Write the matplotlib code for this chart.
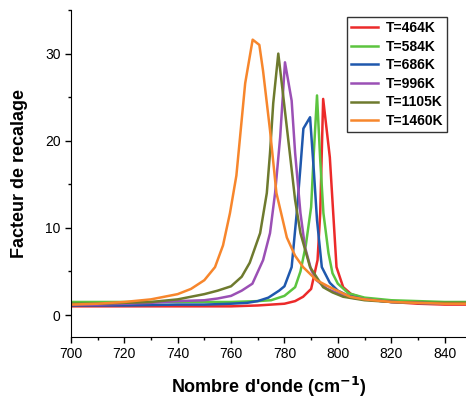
import matplotlib
matplotlib.use("Agg")
import matplotlib.pyplot as plt
from matplotlib.ticker import MultipleLocator

plt.rcParams['font.family'] = ['Liberation Sans', 'DejaVu Sans']

labels = ['T=464K', 'T=584K', 'T=686K', 'T=996K', 'T=1105K', 'T=1460K']
colors = ['#ec2a2a', '#5cc43f', '#1f58ad', '#9b50b5', '#6e7a2e', '#f7862c']

# wavenumber (cm-1) / rescaling factor
x_464 = [700, 720, 740, 760, 770, 780, 784, 787, 790, 792.4, 793.4, 794.5, 797, 799.5, 802, 805, 810, 820, 830, 840, 850]
y_464 = [1.0, 1.0, 1.0, 1.0, 1.1, 1.3, 1.6, 2.1, 3.0, 6.3, 11.7, 24.8, 18.1, 5.5, 3.2, 2.4, 1.9, 1.5, 1.3, 1.2, 1.2]

x_584 = [700, 720, 740, 760, 770, 775, 780, 784, 786, 788, 790, 791, 792.2, 793.4, 794.6, 796.5, 798, 800, 804, 810, 820, 830, 840, 850]
y_584 = [1.5, 1.5, 1.5, 1.5, 1.6, 1.7, 2.2, 3.2, 5.0, 8.0, 12.4, 18.6, 25.2, 17.8, 11.7, 7.1, 4.8, 3.6, 2.5, 2.0, 1.7, 1.6, 1.5, 1.5]

x_686 = [700, 720, 740, 750, 760, 766, 770, 774, 778, 780, 782.7, 784.6, 786, 787.1, 789.6, 791, 792.2, 794, 797, 800, 804, 810, 820, 830, 840, 850]
y_686 = [1.1, 1.1, 1.2, 1.2, 1.3, 1.4, 1.6, 2.0, 2.8, 3.3, 5.5, 11.7, 17.0, 21.4, 22.7, 16.6, 10.9, 5.5, 3.7, 2.8, 2.2, 1.8, 1.5, 1.4, 1.3, 1.3]

x_996 = [700, 710, 720, 730, 740, 750, 755, 760, 764, 768, 772, 774.6, 776.5, 778.4, 780.2, 782.7, 784, 786, 787.7, 790, 792, 796, 800, 805, 810, 820, 830, 840, 850]
y_996 = [1.2, 1.2, 1.3, 1.4, 1.6, 1.7, 1.9, 2.2, 2.8, 3.6, 6.3, 9.4, 14.0, 20.4, 29.0, 24.6, 18.6, 11.7, 7.8, 5.2, 4.0, 3.0, 2.5, 2.0, 1.8, 1.5, 1.4, 1.3, 1.3]

x_1105 = [700, 710, 720, 730, 740, 750, 755, 760, 764, 767, 770.9, 773.4, 774.6, 775.8, 777.7, 779.6, 782, 784, 786, 789.6, 794.5, 798, 802, 810, 820, 830, 840, 850]
y_1105 = [1.3, 1.3, 1.4, 1.5, 1.8, 2.4, 2.8, 3.3, 4.4, 6.0, 9.4, 14.0, 18.6, 24.3, 30.0, 25.0, 18.6, 13.2, 9.4, 5.5, 3.2, 2.6, 2.1, 1.7, 1.5, 1.4, 1.4, 1.4]

x_1460 = [700, 710, 720, 730, 740, 745, 750, 754, 757, 759.6, 762, 765.3, 768.1, 770.6, 772, 774.6, 777, 780.9, 784, 787, 792, 797, 804.6, 810, 820, 830, 840, 850]
y_1460 = [1.2, 1.3, 1.5, 1.8, 2.4, 3.0, 4.0, 5.5, 8.0, 11.7, 16.0, 26.6, 31.6, 31.0, 28.0, 21.2, 14.0, 8.9, 6.8, 5.5, 4.0, 3.2, 2.1, 1.8, 1.5, 1.4, 1.3, 1.3]

xs = [x_464, x_584, x_686, x_996, x_1105, x_1460]
ys = [y_464, y_584, y_686, y_996, y_1105, y_1460]

fig = plt.figure(figsize=(4.66, 4.01), dpi=100)
ax = fig.add_axes([0.152, 0.16, 0.848, 0.815])

for x, y, lab, c in zip(xs, ys, labels, colors):
    ax.plot(x, y, color=c, lw=1.8, label=lab)

ax.set_xlim(700, 848)
ax.set_ylim(-2.5, 35)
ax.xaxis.set_major_locator(MultipleLocator(20))
ax.xaxis.set_minor_locator(MultipleLocator(10))
ax.yaxis.set_major_locator(MultipleLocator(10))
ax.yaxis.set_minor_locator(MultipleLocator(5))
ax.tick_params(which='major', direction='out', length=4, width=1, labelsize=10)
ax.tick_params(which='minor', direction='out', length=2.5, width=1)
ax.spines['top'].set_visible(False)
ax.spines['right'].set_visible(False)

ax.set_xlabel("Nombre d'onde (cm$^{\\mathbf{-1}}$)", fontsize=13, fontweight='bold', labelpad=10)
ax.set_ylabel("Facteur de recalage", fontsize=13, fontweight='bold', labelpad=12)

leg = ax.legend(loc='upper right', bbox_to_anchor=(0.97, 1.0), frameon=True, fancybox=False,
                edgecolor='black', prop={'weight': 'bold', 'size': 10},
                handlelength=2.0, handletextpad=0.5, labelspacing=0.33, borderpad=0.3)
leg.get_frame().set_linewidth(1)

fig.savefig('out.png', dpi=100)
